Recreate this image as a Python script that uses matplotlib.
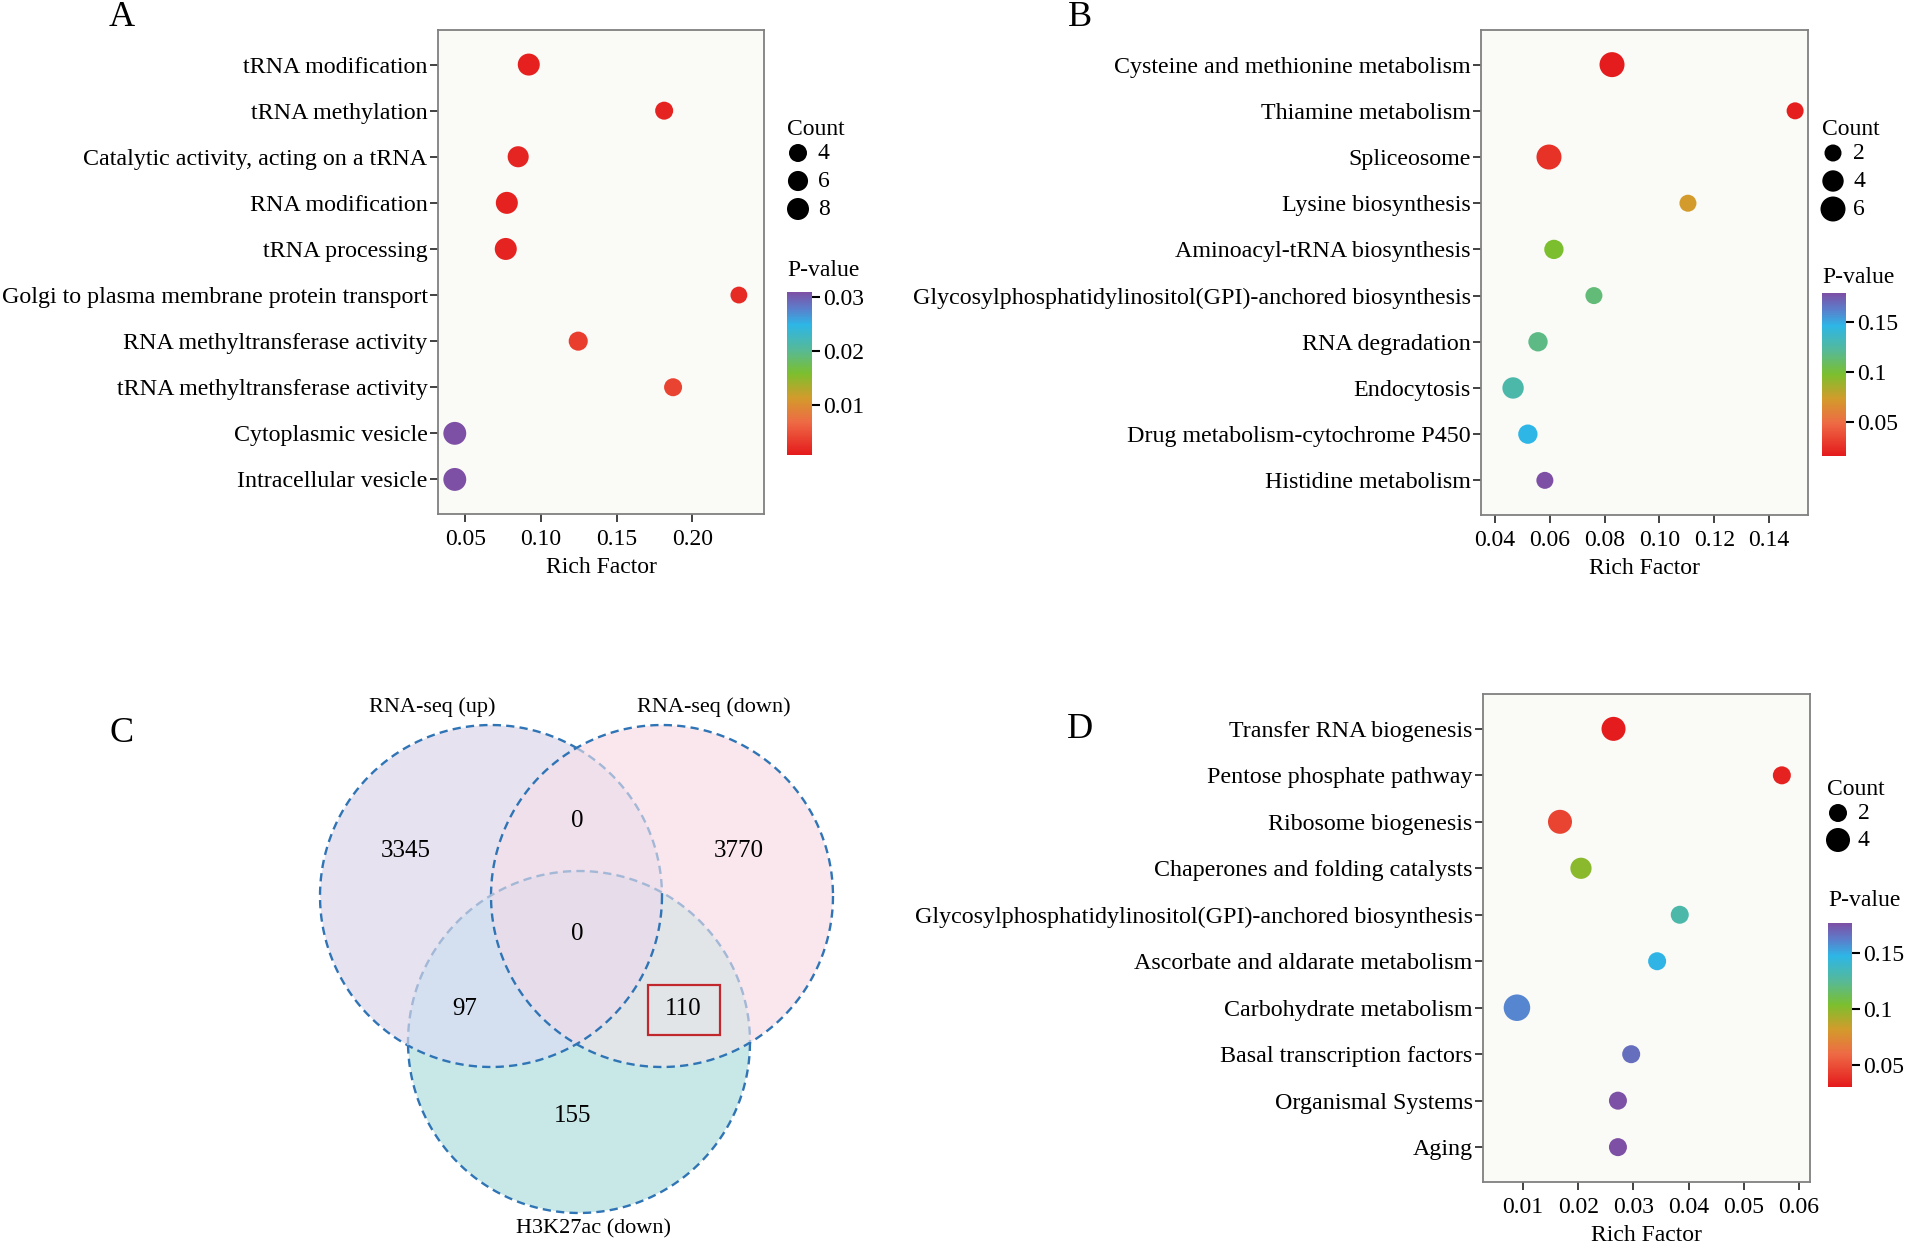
import numpy as np
import matplotlib
matplotlib.use('Agg')
import matplotlib.pyplot as plt
from matplotlib.colors import LinearSegmentedColormap, Normalize, to_rgba
from matplotlib.cm import ScalarMappable
from matplotlib.patches import Rectangle

plt.rcParams['font.family'] = ['Liberation Serif', 'DejaVu Serif']

# ---- data ----
# panel A (GO enrichment)
a_terms = ['tRNA modification', 'tRNA methylation', 'Catalytic activity, acting on a tRNA',
           'RNA modification', 'tRNA processing', 'Golgi to plasma membrane protein transport',
           'RNA methyltransferase activity', 'tRNA methyltransferase activity',
           'Cytoplasmic vesicle', 'Intracellular vesicle']
a_rich = [0.092, 0.1815, 0.085, 0.0775, 0.0768, 0.2309, 0.1247, 0.1874, 0.0431, 0.0431]
a_count = [8, 4, 7, 8, 8, 3, 5, 4, 9, 9]
a_pval = [0.0012, 0.0015, 0.0016, 0.0014, 0.0015, 0.002, 0.0035, 0.004, 0.031, 0.031]

# panel B (KEGG pathways)
b_terms = ['Cysteine and methionine metabolism', 'Thiamine metabolism', 'Spliceosome',
           'Lysine biosynthesis', 'Aminoacyl-tRNA biosynthesis',
           'Glycosylphosphatidylinositol(GPI)-anchored biosynthesis', 'RNA degradation',
           'Endocytosis', 'Drug metabolism-cytochrome P450', 'Histidine metabolism']
b_rich = [0.0827, 0.1495, 0.0597, 0.1104, 0.0615, 0.0761, 0.0557, 0.0466, 0.052, 0.0582]
b_count = [6, 2, 6, 2, 3, 2, 3, 4, 3, 2]
b_pval = [0.017, 0.018, 0.026, 0.073, 0.098, 0.114, 0.117, 0.127, 0.146, 0.179]

# panel C (Venn)
venn_sets = ['RNA-seq (up)', 'RNA-seq (down)', 'H3K27ac (down)']
venn_counts = [3345, 0, 3770, 0, 97, 110, 155]

# panel D (KEGG pathways)
d_terms = ['Transfer RNA biogenesis', 'Pentose phosphate pathway', 'Ribosome biogenesis',
           'Chaperones and folding catalysts',
           'Glycosylphosphatidylinositol(GPI)-anchored biosynthesis',
           'Ascorbate and aldarate metabolism', 'Carbohydrate metabolism',
           'Basal transcription factors', 'Organismal Systems', 'Aging']
d_rich = [0.0264, 0.0569, 0.0167, 0.0205, 0.0384, 0.0343, 0.0089, 0.0296, 0.0272, 0.0272]
d_count = [4, 2, 4, 3, 2, 2, 5, 2, 2, 2]
d_pval = [0.031, 0.033, 0.045, 0.10, 0.13, 0.148, 0.16, 0.167, 0.176, 0.177]

W, H = 1905, 1243
fig = plt.figure(figsize=(W / 100, H / 100), dpi=100)

cmap = LinearSegmentedColormap.from_list('pv', [
    (0.0, '#E41A1C'), (0.2, '#EE6A45'), (0.35, '#D39B2B'), (0.5, '#7CBF2E'),
    (0.65, '#55B99A'), (0.8, '#2DB6E6'), (0.9, '#5B7ECB'), (1.0, '#7D4FA5')])

FS = 17


def box(x0, y0, x1, y1):
    return [x0 / W, 1 - y1 / H, (x1 - x0) / W, (y1 - y0) / H]


def dot_panel(rect, terms, rich, count, pval, xlim, xticks, xtlabels, norm, sa, sb):
    ax = fig.add_axes(box(*rect))
    ax.set_facecolor('#FAFAF7')
    sizes = [sa + sb * c for c in count]
    ax.scatter(rich, range(len(terms)), s=sizes, c=pval, cmap=cmap, norm=norm,
               edgecolors='none', zorder=3)
    ax.set_yticks(range(len(terms)))
    ax.set_yticklabels(terms)
    ax.set_ylim(len(terms) - 0.25, -0.75)
    ax.set_xlim(*xlim)
    ax.set_xticks(xticks)
    ax.set_xticklabels(xtlabels)
    ax.set_xlabel('Rich Factor', fontsize=FS, labelpad=5)
    for sp in ax.spines.values():
        sp.set_color('#808080')
        sp.set_linewidth(1.3)
    ax.tick_params(axis='y', direction='out', length=6, width=1.3, color='#333333',
                   labelsize=17.25, pad=1.5)
    ax.tick_params(axis='x', direction='out', length=6, width=1.3, color='#333333',
                   labelsize=FS, pad=5)
    return ax


def colorbar(rect, norm, ticks, labels):
    cax = fig.add_axes(box(*rect))
    cb = fig.colorbar(ScalarMappable(norm=norm, cmap=cmap), cax=cax)
    cb.outline.set_visible(False)
    cb.set_ticks(ticks)
    cb.set_ticklabels(labels)
    cax.tick_params(length=6, width=1.5, color='black', labelsize=FS, pad=2)
    return cb


# panel A
norm_a = Normalize(0.0007, 0.031)
dot_panel((438, 30, 764, 514), a_terms, a_rich, a_count, a_pval, (0.032, 0.2475),
          [0.05, 0.10, 0.15, 0.20], ['0.05', '0.10', '0.15', '0.20'], norm_a, 85, 20.75)
colorbar((787, 292, 812, 455), norm_a, [0.01, 0.02, 0.03], ['0.01', '0.02', '0.03'])

# panel B
norm_b = Normalize(0.016, 0.179)
dot_panel((1481, 30, 1808, 515), b_terms, b_rich, b_count, b_pval, (0.0349, 0.1542),
          [0.04, 0.06, 0.08, 0.10, 0.12, 0.14],
          ['0.04', '0.06', '0.08', '0.10', '0.12', '0.14'], norm_b, 63, 43.5)
colorbar((1822, 293, 1846, 456), norm_b, [0.05, 0.1, 0.15], ['0.05', '0.1', '0.15'])

# panel D
norm_d = Normalize(0.030, 0.177)
dot_panel((1483, 694, 1810, 1182), d_terms, d_rich, d_count, d_pval, (0.00275, 0.062),
          [0.01, 0.02, 0.03, 0.04, 0.05, 0.06],
          ['0.01', '0.02', '0.03', '0.04', '0.05', '0.06'], norm_d, 37, 65.5)
colorbar((1828, 923, 1852, 1087), norm_d, [0.05, 0.1, 0.15], ['0.05', '0.1', '0.15'])

# overlay in pixel coordinates for letters, legends and the venn
ov = fig.add_axes([0, 0, 1, 1], zorder=-1)
ov.axis('off')

for letter, (lx, ly) in zip('ABCD', [(122, 17), (1080, 17), (122, 733), (1080, 729)]):
    ov.text(lx, ly, letter, fontsize=26, ha='center', va='center')


def count_legend(x, y, values, sa, sb, step):
    ov.text(x - 11, y - 24, 'Count', fontsize=FS, ha='left', va='center')
    ys = [y + i * step for i in range(len(values))]
    ov.scatter([x] * len(values), ys, s=[sa + sb * v for v in values], c='black',
               edgecolors='none')
    for v, yy in zip(values, ys):
        ov.text(x + 20, yy, str(v), fontsize=FS, ha='left', va='center')


count_legend(798, 153, [4, 6, 8], 85, 20.75, 28)
count_legend(1833, 153, [2, 4, 6], 63, 43.5, 28)
count_legend(1838, 813, [2, 4], 37, 65.5, 27)
for px, py in [(787, 270), (1822, 277), (1828, 900)]:
    ov.text(px, py, 'P-value', fontsize=FS, ha='left', va='center')

# ---- Venn (panel C) ----
r = 171
centers = [(491, 896), (662, 896), (579, 1042)]
x0, x1, y0, y1 = 300, 860, 700, 1230
gx, gy = np.meshgrid(np.linspace(x0, x1, 1120), np.linspace(y0, y1, 1060))
code = np.zeros(gx.shape, dtype=int)
for k, (cx, cy) in enumerate(centers):
    code += ((gx - cx) ** 2 + (gy - cy) ** 2 <= r ** 2).astype(int) << k
region_col = ['#FFFFFF', '#E7E3F0', '#FAE6EE', '#F0E0EC',
              '#C8E8E7', '#D5E0F0', '#E2E5E9', '#E8DCEA']
lut = np.array([to_rgba(c) for c in region_col])
lut[0, 3] = 0
ov.imshow(lut[code], extent=(x0, x1, y1, y0), origin='upper', aspect='auto',
          interpolation='antialiased')


def inside(px, py, k):
    cx, cy = centers[k]
    return (px - cx) ** 2 + (py - cy) ** 2 <= r ** 2


th = np.linspace(0, 2 * np.pi, 1500)
dark, faded = '#2F74B5', '#A3B8D6'
for k in range(3):
    cx, cy = centers[k]
    px, py = cx + r * np.cos(th), cy + r * np.sin(th)
    if k == 0:
        fade = inside(px, py, 1) & ~inside(px, py, 2)
    elif k == 1:
        fade = np.zeros_like(th, dtype=bool)
    else:
        fade = inside(px, py, 0) | inside(px, py, 1)
    for mask, col in [(fade, faded), (~fade, dark)]:
        xx = np.where(mask, px, np.nan)
        yy = np.where(mask, py, np.nan)
        ov.plot(xx, yy, color=col, lw=1.7, dashes=(3.5, 2.2))

venn_pos = [(406, 851), (577, 821), (739, 851), (577, 934), (465, 1009), (683, 1009), (573, 1116)]
for n, (tx, ty) in zip(venn_counts, venn_pos):
    ov.text(tx, ty, str(n), fontsize=18, ha='center', va='center')
ov.add_patch(Rectangle((648, 985), 72, 50, fill=False, edgecolor='#C0282D', lw=1.6))
for name, (tx, ty) in zip(venn_sets, [(432, 707), (714, 707), (593, 1229)]):
    ov.text(tx, ty, name, fontsize=16, ha='center', va='center')

ov.set_xlim(0, W)
ov.set_ylim(H, 0)

fig.savefig('out.png', dpi=100)
